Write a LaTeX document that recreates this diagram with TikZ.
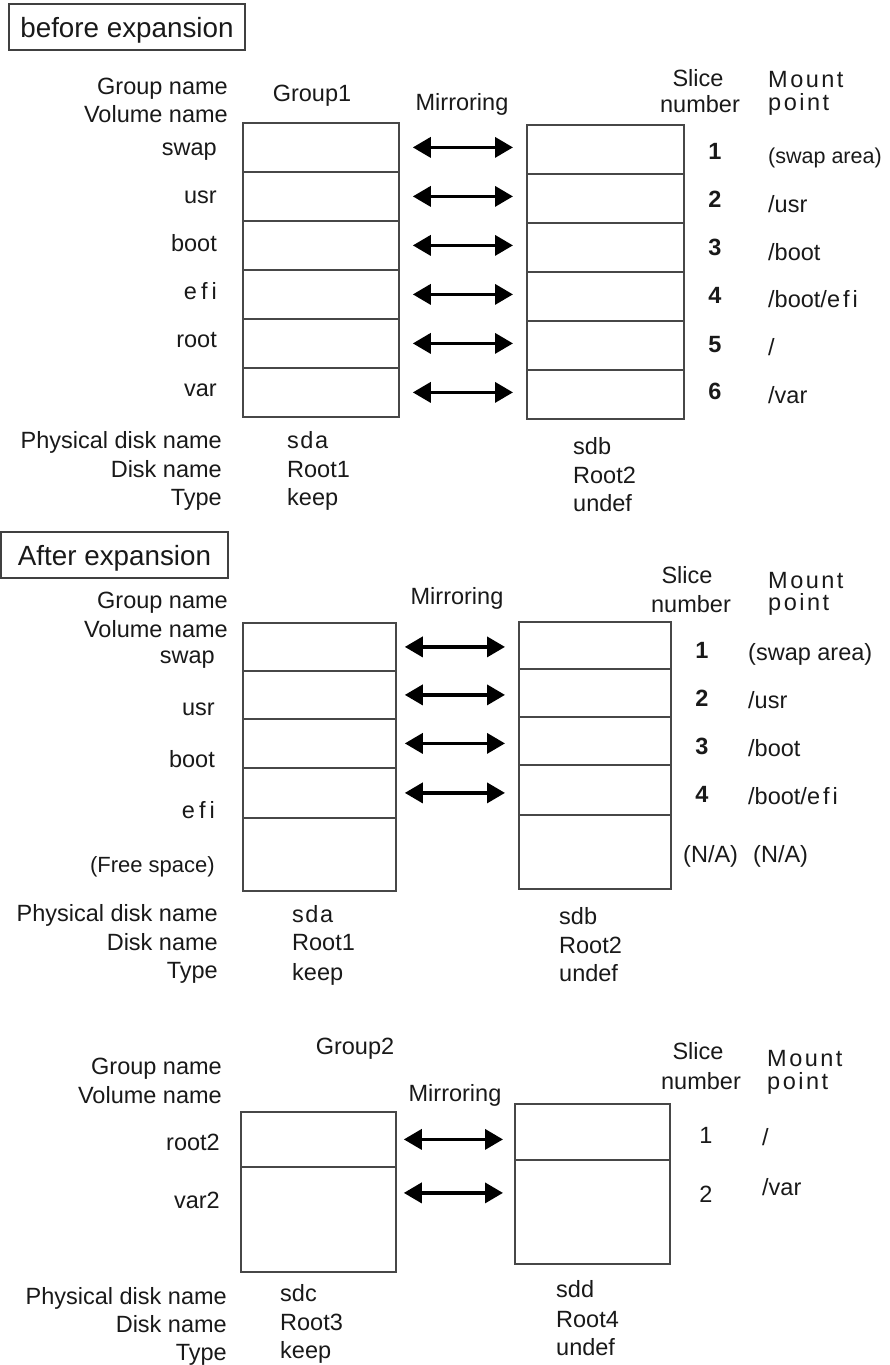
\documentclass[tikz,border=0pt]{standalone}
\usepackage{fontspec}
\setmainfont{Liberation Sans}
\usetikzlibrary{arrows.meta,calc}
\begin{document}
\begin{tikzpicture}[x=1pt,y=-1pt,
  txt/.style={inner sep=0pt, font=\fontsize{23.5}{28}\selectfont, text=black!90},
  lab/.style={txt, anchor=base east},
  lft/.style={txt, anchor=base west},
  ctr/.style={txt, anchor=base},
  num/.style={txt, anchor=base, font=\bfseries\fontsize{23.5}{28}\selectfont},
  headbox/.style={draw=black!75, line width=1.5pt, inner sep=0pt, text height=20pt, text depth=0pt, font=\fontsize{27.8}{32}\selectfont, text=black!90},
  cell/.style={draw=black!72, line width=1.8pt, anchor=north west, inner sep=0pt},
  mirror/.style={line width=3.6pt, {Triangle[length=18pt,width=20pt]}-{Triangle[length=18pt,width=20pt]}}
]
\useasboundingbox (0,0) rectangle (890,1365);

% ---------- headings
\node[headbox, minimum width=236pt, minimum height=46pt] (h1) at (127,27) {before expansion};
\node[headbox, minimum width=227pt, minimum height=46pt] (h2) at (114.5,555) {After expansion};

% ================= Section 1
\node[lab] (a-gn) at (228,94) {Group name};
\node[lab] (a-vn) at (228,122) {Volume name};
\node[ctr] (a-g) at (312,101.5) {Group1};
\node[ctr] (a-mir) at (462,110) {Mirroring};
\node[ctr] (a-sl) at (698,86) {Slice};
\node[ctr] (a-nu) at (700,112) {number};
\node[lft] (a-mo) at (768,87) {M\kern2.5pt o\kern2.5pt u\kern2.5pt n\kern2.5pt t};
\node[lft] (a-po) at (768,110) {p\kern2.5pt o\kern2.5pt i\kern2.5pt n\kern2.5pt t};

\node[lab] (a-v1) at (217,155) {swap};
\node[lab] (a-v2) at (217,203) {usr};
\node[lab] (a-v3) at (217,251) {boot};
\node[lab] (a-v4) at (217,299) {e\kern4pt f\kern4pt i};
\node[lab] (a-v5) at (217,347) {root};
\node[lab] (a-v6) at (217,396) {var};

\foreach \k in {1,...,6}{
  \node[cell, minimum width=156pt, minimum height=49pt] (aL\k) at (242,{122+49*(\k-1)}) {};
  \node[cell, minimum width=157pt, minimum height=49pt] (aR\k) at (526,{124+49*(\k-1)}) {};
  \draw[mirror, shorten <=13pt, shorten >=13pt] (aL\k.east) -- (aL\k.east -| aR\k.west);
}

\node[num] (a-n1) at (715,159) {1};
\node[num] (a-n2) at (715,207) {2};
\node[num] (a-n3) at (715,255) {3};
\node[num] (a-n4) at (715,303) {4};
\node[num] (a-n5) at (715,352) {5};
\node[num] (a-n6) at (715,399) {6};

\node[lft, font=\fontsize{21.5}{26}\selectfont] (a-m1) at (768,163) {(swap area)};
\node[lft] (a-m2) at (768,212) {/usr};
\node[lft] (a-m3) at (768,260) {/boot};
\node[lft] (a-m4) at (768,307) {/boot/e\kern3pt f\kern3pt i};
\node[lft] (a-m5) at (768,355) {/};
\node[lft] (a-m6) at (768,403) {/var};

\node[lab] (a-pd) at (222,448) {Physical disk name};
\node[lab] (a-dn) at (222,477) {Disk name};
\node[lab] (a-ty) at (222,505) {Type};
\node[lft] (a-l1) at (287,448) {s\kern1.5pt d\kern1.5pt a};
\node[lft] (a-l2) at (287,477) {Root1};
\node[lft] (a-l3) at (287,505) {keep};
\node[lft] (a-r1) at (573,454) {sdb};
\node[lft] (a-r2) at (573,483) {Root2};
\node[lft] (a-r3) at (573,511) {undef};

% ================= Section 2
\node[lab] (b-gn) at (228,608) {Group name};
\node[lab] (b-vn) at (228,637) {Volume name};
\node[ctr] (b-mir) at (457,604) {Mirroring};
\node[ctr] (b-sl) at (687,583) {Slice};
\node[ctr] (b-nu) at (691,612) {number};
\node[lft] (b-mo) at (768,588) {M\kern2.5pt o\kern2.5pt u\kern2.5pt n\kern2.5pt t};
\node[lft] (b-po) at (768,610) {p\kern2.5pt o\kern2.5pt i\kern2.5pt n\kern2.5pt t};

\node[lab] (b-v1) at (215,663) {swap};
\node[lab] (b-v2) at (215,715) {usr};
\node[lab] (b-v3) at (215,767) {boot};
\node[lab] (b-v4) at (215,818) {e\kern4pt f\kern4pt i};
\node[lab, font=\fontsize{22}{26}\selectfont] (b-v5) at (215,872) {(Free space)};

\node[cell, minimum width=153pt, minimum height=48pt] (bL1) at (242,622) {};
\node[cell, minimum width=153pt, minimum height=48pt] (bL2) at (242,670) {};
\node[cell, minimum width=153pt, minimum height=49pt] (bL3) at (242,718) {};
\node[cell, minimum width=153pt, minimum height=50pt] (bL4) at (242,767) {};
\node[cell, minimum width=153pt, minimum height=73pt] (bL5) at (242,817) {};
\node[cell, minimum width=152pt, minimum height=47pt] (bR1) at (518,621) {};
\node[cell, minimum width=152pt, minimum height=48pt] (bR2) at (518,668) {};
\node[cell, minimum width=152pt, minimum height=48pt] (bR3) at (518,716) {};
\node[cell, minimum width=152pt, minimum height=50pt] (bR4) at (518,764) {};
\node[cell, minimum width=152pt, minimum height=74pt] (bR5) at (518,814) {};
\foreach \k in {1,...,4}{
  \draw[mirror, shorten <=8pt, shorten >=13pt] (bL\k.east) -- (bL\k.east -| bR\k.west);
}

\node[num] (b-n1) at (702,658) {1};
\node[num] (b-n2) at (702,706) {2};
\node[num] (b-n3) at (702,754) {3};
\node[num] (b-n4) at (702,802) {4};
\node[lft] (b-m1) at (748,660) {(swap area)};
\node[lft] (b-m2) at (748,708) {/usr};
\node[lft] (b-m3) at (748,756) {/boot};
\node[lft] (b-m4) at (748,804) {/boot/e\kern3pt f\kern3pt i};
\node[lft] (b-na1) at (683,862) {(N/A)};
\node[lft] (b-na2) at (753,862) {(N/A)};

\node[lab] (b-pd) at (218,921.5) {Physical disk name};
\node[lab] (b-dn) at (218,950) {Disk name};
\node[lab] (b-ty) at (218,978) {Type};
\node[lft] (b-l1) at (292,922) {s\kern1.5pt d\kern1.5pt a};
\node[lft] (b-l2) at (292,950.5) {Root1};
\node[lft] (b-l3) at (292,980) {keep};
\node[lft] (b-r1) at (559,924) {sdb};
\node[lft] (b-r2) at (559,953) {Root2};
\node[lft] (b-r3) at (559,981) {undef};

% ================= Section 3
\node[ctr] (c-g) at (355,1054) {Group2};
\node[lab] (c-gn) at (222,1074) {Group name};
\node[lab] (c-vn) at (222,1103) {Volume name};
\node[ctr] (c-mir) at (455,1101) {Mirroring};
\node[ctr] (c-sl) at (698,1059) {Slice};
\node[ctr] (c-nu) at (701,1089) {number};
\node[lft] (c-mo) at (767,1066) {M\kern2.5pt o\kern2.5pt u\kern2.5pt n\kern2.5pt t};
\node[lft] (c-po) at (767,1089) {p\kern2.5pt o\kern2.5pt i\kern2.5pt n\kern2.5pt t};

\node[lab] (c-v1) at (220,1150) {root2};
\node[lab] (c-v2) at (220,1208) {var2};

\node[cell, minimum width=155pt, minimum height=55pt] (cL1) at (240,1111) {};
\node[cell, minimum width=155pt, minimum height=105pt] (cL2) at (240,1166) {};
\node[cell, minimum width=155pt, minimum height=56pt] (cR1) at (514,1103) {};
\node[cell, minimum width=155pt, minimum height=104pt] (cR2) at (514,1159) {};
\draw[mirror, shorten <=7pt, shorten >=11pt] (cL1.east) -- (cL1.east -| cR1.west);
\draw[mirror] ($(cL2.east)+(7,-26.5)$) -- ($(cL2.east -| cR2.west)+(-11,-26.5)$);

\node[ctr] (c-n1) at (706,1143) {1};
\node[ctr] (c-n2) at (706,1202) {2};
\node[lft] (c-m1) at (762,1145) {/};
\node[lft] (c-m2) at (762,1195) {/var};

\node[lab] (c-pd) at (227,1304) {Physical disk name};
\node[lab] (c-dn) at (227,1332) {Disk name};
\node[lab] (c-ty) at (227,1360) {Type};
\node[lft] (c-l1) at (280,1301.5) {sdc};
\node[lft] (c-l2) at (280,1330) {Root3};
\node[lft] (c-l3) at (280,1358) {keep};
\node[lft] (c-r1) at (556,1297) {sdd};
\node[lft] (c-r2) at (556,1327) {Root4};
\node[lft] (c-r3) at (556,1355) {undef};
\end{tikzpicture}
\end{document}
